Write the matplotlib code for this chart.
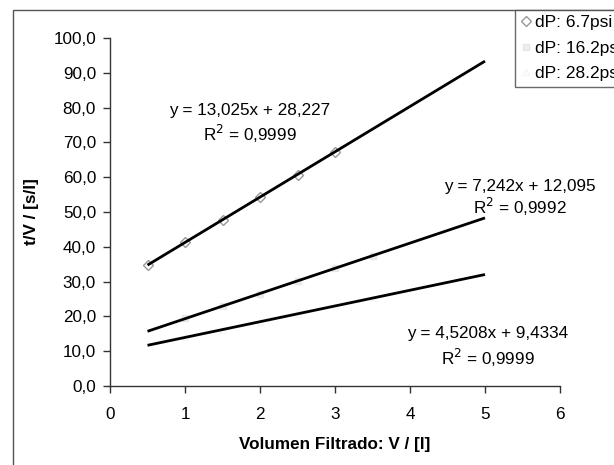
import numpy as np
import matplotlib.pyplot as plt
from matplotlib.patches import Rectangle
from matplotlib.lines import Line2D

plt.rcParams['font.family'] = ['Liberation Sans', 'DejaVu Sans']

vol = [0.5, 1.0, 1.5, 2.0, 2.5, 3.0]
tv_67 = [34.7, 41.3, 47.8, 54.2, 60.7, 67.3]
vol_162 = [1.0, 1.5, 2.0, 2.5, 3.0, 3.5]
tv_162 = [19.5, 23.0, 26.5, 30.2, 33.8, 37.5]
vol_282 = [1.0, 1.5, 2.0, 2.5, 3.0, 3.5]
tv_282 = [14.0, 16.2, 18.5, 20.7, 23.0, 25.2]

# linear trendlines as printed on the chart
slopes = [13.025, 7.242, 4.5208]
intercepts = [28.227, 12.095, 9.4334]
r2 = ['0,9999', '0,9992', '0,9999']
labels = ['dP: 6.7psi', 'dP: 16.2psi', 'dP: 28.2psi']
x_fit = [0.5, 5.0]

W, H = 614, 465
fs = 12.3
fig = plt.figure(figsize=(W / 100, H / 100), dpi=100)
ax = fig.add_axes([110 / W, 1 - 386 / H, 450 / W, 348 / H])

ax.plot(vol, tv_67, ls='none', marker='D', ms=5, mfc='none', mec='#999999', mew=1.0)
ax.plot(vol_162, tv_162, ls='none', marker='s', ms=5, mfc='#eeeeee', mec='#e6e6e6')
ax.plot(vol_282, tv_282, ls='none', marker='^', ms=5, mfc='none', mec='#f6f6f6')

for m, b in zip(slopes, intercepts):
    xf = np.array(x_fit)
    ax.plot(xf, m * xf + b, color='black', lw=2.0, solid_capstyle='butt')

ax.set_xlim(0, 6)
ax.set_ylim(0, 100)
ax.set_xticks(range(0, 7))
ax.set_yticks(np.arange(0, 101, 10))
ax.set_yticklabels([f'{v:.1f}'.replace('.', ',') for v in np.arange(0, 101, 10)])
for s in ['top', 'right']:
    ax.spines[s].set_visible(False)
for s in ['left', 'bottom']:
    ax.spines[s].set_color('#333333')
    ax.spines[s].set_linewidth(1.0)
ax.tick_params(direction='out', length=5, width=1, colors='#333333', labelsize=fs,
               labelcolor='black')
ax.tick_params(axis='x', pad=10)
ax.tick_params(axis='y', pad=5)
ax.set_xlabel('Volumen Filtrado: V / [l]', fontsize=fs, fontweight='bold', labelpad=11)
ax.set_ylabel('t/V / [s/l]', fontsize=fs, fontweight='bold', labelpad=10)

# equation labels
eq_pos = [(250, 110, 134), (520, 187, 207), (488, 333, 358)]
for (cx, y1, y2), m, b, r in zip(eq_pos, slopes, intercepts, r2):
    ms = f'{m:g}'.replace('.', ',')
    bs = f'{b:g}'.replace('.', ',')
    fig.text(cx / W, 1 - y1 / H, f'y = {ms}x + {bs}', ha='center', va='center', fontsize=fs)
    fig.text(cx / W, 1 - y2 / H, f'R$^2$ = {r}', ha='center', va='center', fontsize=fs)

# outer chart border (cut off on the right)
fig.patches.append(Rectangle((13 / W, -0.05), 1.2, 1 - 10 / H + 0.05, transform=fig.transFigure,
                             fill=False, ec='#555555', lw=1.0))

handles = [
    Line2D([], [], ls='none', marker='D', ms=5, mfc='none', mec='#999999'),
    Line2D([], [], ls='none', marker='s', ms=5, mfc='#eeeeee', mec='#e6e6e6'),
    Line2D([], [], ls='none', marker='^', ms=5, mfc='none', mec='#f6f6f6'),
]
leg = fig.legend(handles, labels, loc='upper left', bbox_to_anchor=(515 / W, 1 - 10 / H),
                 frameon=True, fancybox=False, edgecolor='#444444', fontsize=12.5,
                 handlelength=0.7, handletextpad=0.15, borderpad=0.3, labelspacing=0.6,
                 borderaxespad=0)
leg.get_frame().set_linewidth(1.0)

fig.savefig('out.png', dpi=100)
